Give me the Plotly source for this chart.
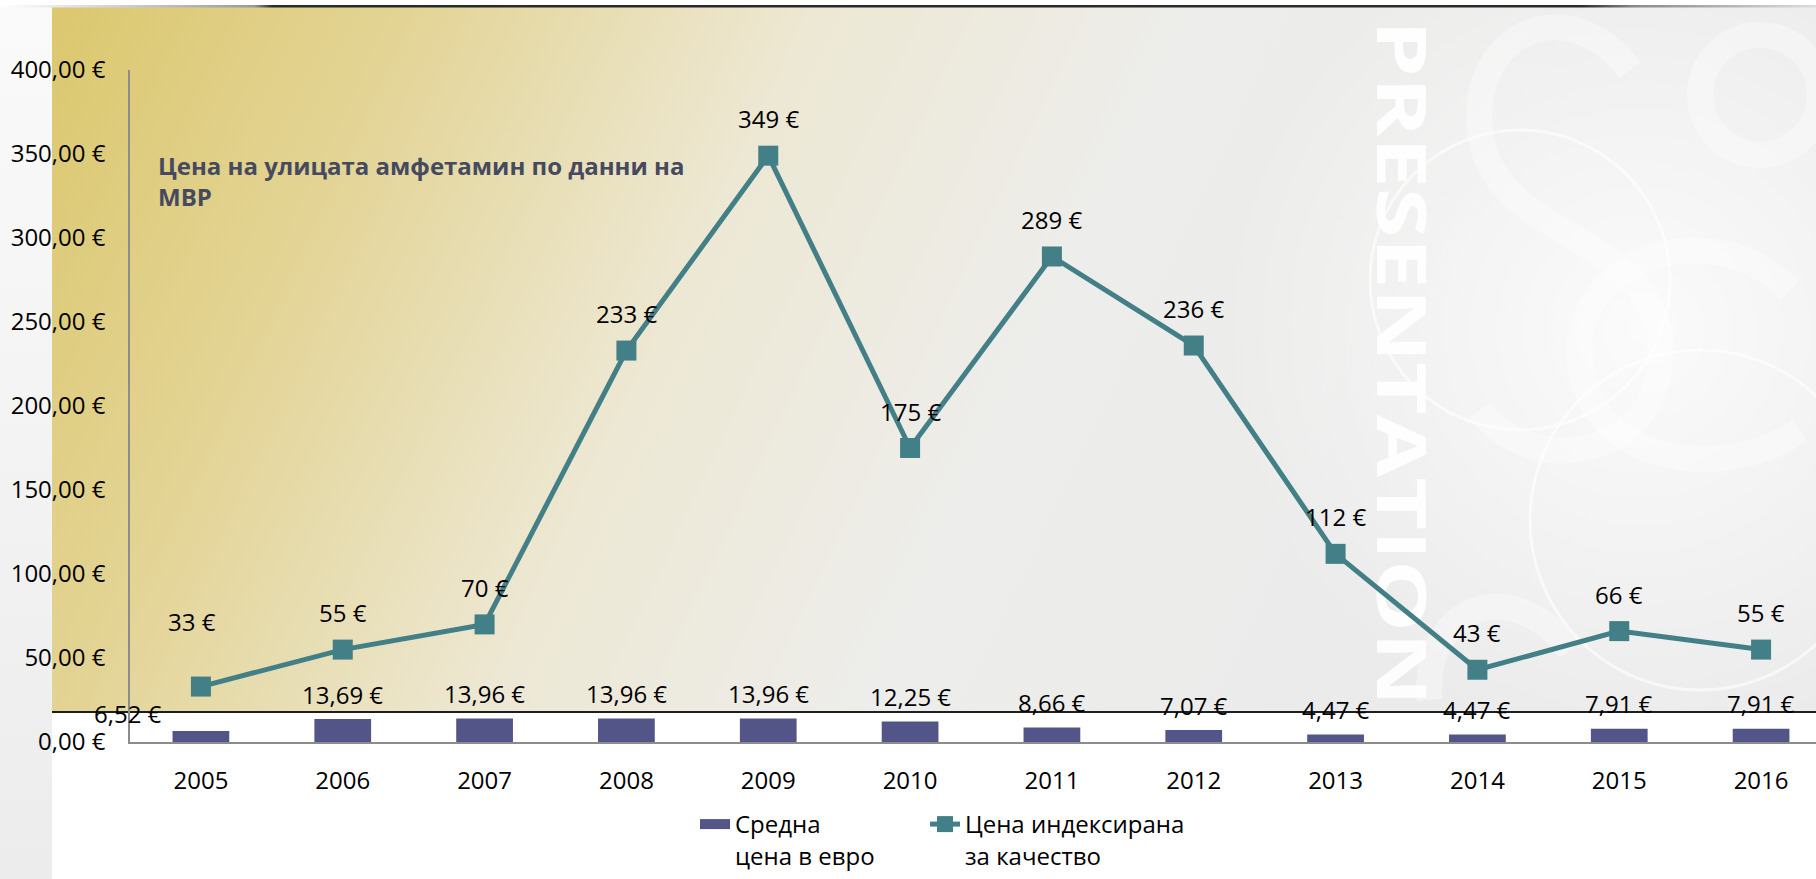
import base64
import plotly.graph_objects as go

EUR = '\u20ac'

years = ['2005', '2006', '2007', '2008', '2009', '2010',
         '2011', '2012', '2013', '2014', '2015', '2016']
avg_price = [6.52, 13.69, 13.96, 13.96, 13.96, 12.25, 8.66, 7.07, 4.47, 4.47, 7.91, 7.91]
quality_price = [33, 55, 70, 233, 349, 175, 289, 236, 112, 43, 66, 55]
y_ticks = [0, 50, 100, 150, 200, 250, 300, 350, 400]
y_ticktext = [f'{v:.2f} {EUR}'.replace('.', ',') for v in y_ticks]

bar_name = 'Средна<br>цена в евро'
line_name = 'Цена индексирана<br>за качество'
title_text = 'Цена на улицата амфетамин по данни на<br>МВР'

# body margin is removed in post_script, so figure px == page px
W, H = 1816, 879
L, T = 130, 70
B = H - 742
R = 0
pw, ph = W - L - R, H - T - B
step = 141.9  # px per category

FONT = 'Open Sans'
BAR_COLOR = '#535488'
LINE_COLOR = '#427f86'


def px_x(p):
    return (p - L) / pw


def px_y(p):
    return (H - B - p) / ph


# slide background
svg = f'''<svg xmlns="http://www.w3.org/2000/svg" width="{W}" height="{H}" viewBox="0 0 {W} {H}" preserveAspectRatio="none">
<defs>
<linearGradient id="g" gradientUnits="userSpaceOnUse" x1="60" y1="10" x2="1350" y2="620">
<stop offset="0" stop-color="#dbc86f"/>
<stop offset="0.22" stop-color="#e3d495"/>
<stop offset="0.48" stop-color="#ede8d4"/>
<stop offset="0.72" stop-color="#ededeb"/>
<stop offset="1" stop-color="#ebebeb"/>
</linearGradient>
<radialGradient id="hl" cx="1640" cy="330" r="420" gradientUnits="userSpaceOnUse">
<stop offset="0" stop-color="#ffffff" stop-opacity="0.8"/>
<stop offset="1" stop-color="#ffffff" stop-opacity="0"/>
</radialGradient>
<linearGradient id="side" x1="0" y1="0" x2="0" y2="1">
<stop offset="0" stop-color="#fafafa"/>
<stop offset="1" stop-color="#ececec"/>
</linearGradient>
<linearGradient id="top" x1="0" y1="0" x2="1" y2="0">
<stop offset="0" stop-color="#ffffff"/>
<stop offset="0.14" stop-color="#9a9a9a"/>
<stop offset="0.15" stop-color="#2a2a2a"/>
<stop offset="0.87" stop-color="#2a2a2a"/>
<stop offset="0.9" stop-color="#8a8a8a"/>
<stop offset="1" stop-color="#dddddd"/>
</linearGradient>
</defs>
<rect x="0" y="0" width="{W}" height="{H}" fill="#ffffff"/>
<rect x="0" y="7" width="52" height="{H}" fill="url(#side)"/>
<rect x="52" y="7" width="{W - 52}" height="705" fill="url(#g)"/>
<rect x="52" y="7" width="{W - 52}" height="705" fill="url(#hl)"/>
<g fill="none" stroke="#ffffff" stroke-opacity="0.35" stroke-width="26">
<path d="M1630 70 C1570 -10 1470 30 1480 130 C1490 240 1650 230 1660 340 C1670 460 1530 480 1480 410"/>
<path d="M1790 290 C1710 210 1570 260 1580 360 C1590 470 1730 480 1800 430"/>
<path d="M1570 650 C1510 570 1420 610 1430 700"/>
<circle cx="1760" cy="95" r="60"/>
</g>
<g fill="none" stroke="#ffffff" stroke-opacity="0.6" stroke-width="3">
<circle cx="1520" cy="280" r="150"/>
<circle cx="1700" cy="520" r="170"/>
</g>
<text x="0" y="0" transform="translate(1377 20) rotate(90)" font-family="Open Sans" font-weight="bold" font-size="68" fill="#ffffff" fill-opacity="0.9" textLength="686" lengthAdjust="spacingAndGlyphs">PRESENTATION</text>
<rect x="0" y="5" width="{W}" height="2.5" fill="url(#top)"/>
<line x1="52" y1="712" x2="{W}" y2="712" stroke="#1e1e1e" stroke-width="2"/>
</svg>'''
bg_src = 'data:image/svg+xml;base64,' + base64.b64encode(svg.encode('utf-8')).decode('ascii')

fig = go.Figure()
fig.add_trace(go.Bar(
    x=years,
    y=avg_price,
    name=bar_name,
    legendgroup='bar',
    showlegend=False,
    marker=dict(color=BAR_COLOR, line=dict(width=0)),
    width=0.4,
))
# legend swatch for the bars (wide block like the original)
fig.add_trace(go.Scatter(
    x=[None], y=[None], name=bar_name, legendgroup='bar', legend='legend',
    mode='lines', line=dict(color=BAR_COLOR, width=18),
))
fig.add_trace(go.Scatter(
    x=years,
    y=quality_price,
    name=line_name,
    legend='legend2',
    mode='lines+markers',
    line=dict(color=LINE_COLOR, width=5),
    marker=dict(symbol='square', size=20, color=LINE_COLOR),
))

label_font = dict(family=FONT, size=24, color='#000000')
annotations = []
for i, v in enumerate(quality_price):
    annotations.append(dict(
        x=i, y=v, xref='x', yref='y', text=f'{v:.0f} {EUR}', showarrow=False,
        xanchor='center', yanchor='middle',
        yshift=65 if i == 0 else 37, xshift=-9 if i == 0 else 0,
        font=label_font,
    ))
for i, v in enumerate(avg_price):
    annotations.append(dict(
        x=i, y=v, xref='x', yref='y', text=f'{v:.2f} {EUR}'.replace('.', ','),
        showarrow=False, xanchor='center', yanchor='middle',
        yshift=18 if i == 0 else 25, xshift=-73 if i == 0 else 0,
        font=label_font,
    ))
annotations.append(dict(
    x=px_x(156), y=px_y(181), xref='paper', yref='paper', xanchor='left', yanchor='middle',
    align='left', text='<b>' + title_text + '</b>', showarrow=False,
    font=dict(family=FONT, size=24, color='#464a5e'),
))

legend_style = dict(
    orientation='h', yanchor='bottom', xanchor='left', valign='top',
    font=dict(family=FONT, size=24, color='#000000'),
    bgcolor='rgba(0,0,0,0)', itemwidth=30,
)

fig.update_layout(
    width=W,
    height=H,
    margin=dict(l=L, r=R, t=T, b=B, pad=0, autoexpand=False),
    paper_bgcolor='#ffffff',
    plot_bgcolor='rgba(0,0,0,0)',
    font=dict(family=FONT, size=24, color='#000000'),
    showlegend=True,
    legend=dict(x=px_x(695), y=px_y(878), **legend_style),
    legend2=dict(x=px_x(925), y=px_y(878), **legend_style),
    xaxis=dict(
        type='category', range=[-0.5, 11.5 - (1832 - W) / step],
        showline=True, linecolor='#8c8c8c', linewidth=2,
        showgrid=False, ticks='', ticklabelstandoff=16,
        tickfont=dict(family=FONT, size=24, color='#000000'),
        fixedrange=True,
    ),
    yaxis=dict(
        range=[0, 400], tickmode='array', tickvals=y_ticks, ticktext=y_ticktext,
        showline=True, linecolor='#8c8c8c', linewidth=1.5,
        showgrid=False, zeroline=False, ticks='', ticklabelstandoff=18,
        tickfont=dict(family=FONT, size=24, color='#000000'),
        fixedrange=True,
    ),
    annotations=annotations,
    images=[dict(
        source=bg_src, xref='paper', yref='paper',
        x=-L / pw, y=(H - B) / ph, sizex=W / pw, sizey=H / ph,
        xanchor='left', yanchor='top', sizing='stretch', layer='below',
    )],
)

fig.write_html('out.html', config={'displayModeBar': False},
               post_script="document.body.style.margin = '0';")
